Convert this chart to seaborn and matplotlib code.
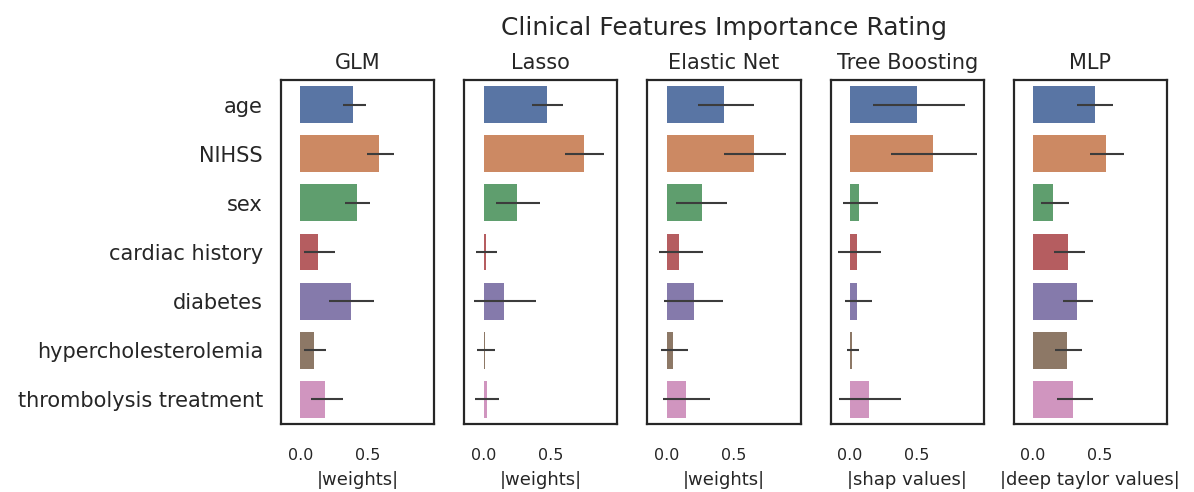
import seaborn as sns
import numpy as np
import matplotlib.pyplot as plt

features = ['age', 'NIHSS', 'sex', 'cardiac history', 'diabetes',
            'hypercholesterolemia', 'thrombolysis treatment']
methods = ['GLM', 'Lasso', 'Elastic Net', 'Tree Boosting', 'MLP']
xlabels = ['|weights|', '|weights|', '|weights|', '|shap values|', '|deep taylor values|']

# mean importance and the ends of the error bars, per method
glm_imp = [0.39, 0.59, 0.42, 0.13, 0.38, 0.10, 0.18]
glm_lo = [0.32, 0.50, 0.33, 0.03, 0.21, 0.03, 0.08]
glm_hi = [0.49, 0.70, 0.52, 0.26, 0.55, 0.19, 0.32]

lasso_imp = [0.47, 0.75, 0.25, 0.015, 0.15, 0.012, 0.022]
lasso_lo = [0.36, 0.61, 0.09, -0.06, -0.075, -0.05, -0.065]
lasso_hi = [0.59, 0.90, 0.42, 0.10, 0.39, 0.085, 0.115]

enet_imp = [0.43, 0.65, 0.26, 0.09, 0.20, 0.05, 0.14]
enet_lo = [0.23, 0.43, 0.07, -0.06, -0.02, -0.04, -0.03]
enet_hi = [0.65, 0.89, 0.45, 0.27, 0.42, 0.16, 0.32]

tree_imp = [0.50, 0.62, 0.07, 0.055, 0.055, 0.013, 0.14]
tree_lo = [0.17, 0.31, -0.05, -0.09, -0.035, -0.025, -0.085]
tree_hi = [0.86, 0.95, 0.21, 0.23, 0.165, 0.07, 0.38]

mlp_imp = [0.46, 0.545, 0.15, 0.26, 0.33, 0.255, 0.30]
mlp_lo = [0.33, 0.425, 0.06, 0.155, 0.22, 0.16, 0.18]
mlp_hi = [0.60, 0.68, 0.27, 0.385, 0.45, 0.365, 0.445]

imps = [glm_imp, lasso_imp, enet_imp, tree_imp, mlp_imp]
los = [glm_lo, lasso_lo, enet_lo, tree_lo, mlp_lo]
his = [glm_hi, lasso_hi, enet_hi, tree_hi, mlp_hi]

sns.set_style('white', {'axes.edgecolor': '.15', 'text.color': '.15',
                        'xtick.color': '.15', 'ytick.color': '.15'})
plt.rcParams['axes.linewidth'] = 1.6

fig, axes = plt.subplots(1, 5, figsize=(11.94, 4.92), dpi=100)
fig.subplots_adjust(left=281 / 1194, right=1167 / 1194,
                    bottom=1 - 424 / 492, top=1 - 80 / 492, wspace=0.195)

for i, ax in enumerate(axes):
    sns.barplot(x=imps[i], y=features, hue=features, palette='deep', legend=False,
                width=0.75, linewidth=0, ax=ax)
    pos = np.arange(len(features))
    ax.hlines(pos, los[i], his[i], color='#3c3c3c', lw=1.5, zorder=3)
    ax.set_xlim(-0.145, 1.0)
    ax.set_ylim(len(features) - 0.5, -0.5)
    ax.set_xticks([0, 0.5])
    ax.set_xticklabels(['0.0', '0.5'])
    ax.set_title(methods[i], fontsize=15, pad=8)
    ax.set_xlabel(xlabels[i], fontsize=13, labelpad=6)
    ax.set_ylabel('')
    ax.tick_params(axis='x', length=0, pad=17, labelsize=11.5)
    ax.tick_params(axis='y', length=0, pad=13, labelsize=15)
    if i > 0:
        ax.tick_params(axis='y', labelleft=False)

fig.text(724 / 1194, 1 - 16 / 492, 'Clinical Features Importance Rating',
         ha='center', va='top', fontsize=18, color='.15')

fig.savefig('out.png', dpi=100)
